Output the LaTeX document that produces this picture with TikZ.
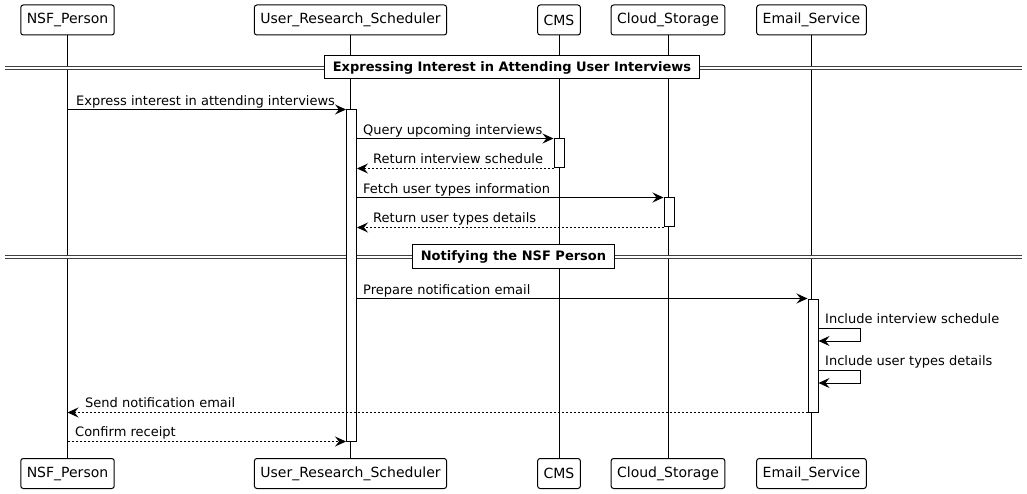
\documentclass[tikz,border=0pt]{standalone}
\usepackage{fontspec}
\setmainfont{DejaVu Sans}
\usetikzlibrary{arrows.meta}

\begin{document}
\begin{tikzpicture}[x=1pt, y=-1pt,
    participant/.style={draw, line width=1pt, rounded corners=2.5pt, fill=white,
        minimum height=30pt, inner xsep=6pt, font=\fontsize{14}{16}\selectfont},
    lifeline/.style={line width=1pt},
    activation/.style={draw, line width=1pt, fill=white, minimum width=10pt, inner sep=0pt},
    msg/.style={line width=1pt, -{Stealth[length=11pt, width=10pt, inset=4pt]}},
    reply/.style={msg, dash pattern=on 2pt off 2pt},
    msgtext/.style={anchor=base west, inner sep=0pt, font=\fontsize{13}{15}\selectfont},
    divider/.style={draw, line width=1pt, fill=white, minimum height=23pt, inner xsep=8pt,
        font=\bfseries\fontsize{13}{15}\selectfont},
    sepline/.style={draw=black!75, line width=0.8pt, double, double distance=2.6pt}]
    \useasboundingbox[fill=white] (0,0) rectangle (1027,494);

    % Participants (top and bottom)
    \node[participant] (nsfTop)   at (67.5,20)  {NSF\_Person};
    \node[participant] (ursTop)   at (350.5,20) {User\_Research\_Scheduler};
    \node[participant] (cmsTop)   at (559,20)   {CMS};
    \node[participant] (cloudTop) at (668,20)   {Cloud\_Storage};
    \node[participant] (mailTop)  at (811.5,20) {Email\_Service};
    \node[participant] (nsfBot)   at (67.5,473.5)  {NSF\_Person};
    \node[participant] (ursBot)   at (350.5,473.5) {User\_Research\_Scheduler};
    \node[participant] (cmsBot)   at (559,473.5)   {CMS};
    \node[participant] (cloudBot) at (668,473.5)   {Cloud\_Storage};
    \node[participant] (mailBot)  at (811.5,473.5) {Email\_Service};

    % Lifelines
    \draw[lifeline] (nsfTop) -- (nsfBot);
    \draw[lifeline] (ursTop) -- (ursBot);
    \draw[lifeline] (cmsTop) -- (cmsBot);
    \draw[lifeline] (cloudTop) -- (cloudBot);
    \draw[lifeline] (mailTop) -- (mailBot);

    % Dividers
    \draw[sepline] (5,68) -- (1022,68);
    \node[divider] (secInterest) at (512,67.5) {Expressing Interest in Attending User Interviews};
    \draw[sepline] (5,257) -- (1022,257);
    \node[divider] (secNotify) at (513.5,256.5) {Notifying the NSF Person};

    % Activation bars
    \node[activation, minimum height=331pt] (ursAct)   at (351.5,275.5) {};
    \node[activation, minimum height=29pt]  (cmsAct)   at (559,153.5)   {};
    \node[activation, minimum height=29pt]  (cloudAct) at (669,212.5)   {};
    \node[activation, minimum height=113pt] (mailAct)  at (813,355.5)   {};

    % Messages
    \draw[msg] (nsfTop |- ursAct.north) -- (ursAct.north west);
    \node[msgtext] (txtExpress) at (76,105.5) {Express interest in attending interviews};

    \draw[msg] (ursAct.east |- cmsAct.north) -- (cmsAct.north west);
    \node[msgtext] (txtQuery) at (363,134.5) {Query upcoming interviews};
    \draw[reply] (cmsAct.south west) -- (ursAct.east |- cmsAct.south);
    \node[msgtext] (txtSchedule) at (373,163.5) {Return interview schedule};

    \draw[msg] (ursAct.east |- cloudAct.north) -- (cloudAct.north west);
    \node[msgtext] (txtFetch) at (363,193.5) {Fetch user types information};
    \draw[reply] (cloudAct.south west) -- (ursAct.east |- cloudAct.south);
    \node[msgtext] (txtTypes) at (373,222.5) {Return user types details};

    \draw[msg] (ursAct.east |- mailAct.north) -- (mailAct.north west);
    \node[msgtext] (txtPrepare) at (363,294.5) {Prepare notification email};

    \draw[msg] (mailAct.east |- 0,328) -- ++(42,0) -- ++(0,13) -- (mailAct.east |- 0,341);
    \node[msgtext] (txtInclSched) at (825,323.5) {Include interview schedule};
    \draw[msg] (mailAct.east |- 0,370) -- ++(42,0) -- ++(0,13) -- (mailAct.east |- 0,383);
    \node[msgtext] (txtInclTypes) at (825,365.5) {Include user types details};

    \draw[reply] (mailAct.south west) -- (nsfTop |- mailAct.south);
    \node[msgtext] (txtSend) at (85,407.5) {Send notification email};
    \draw[reply] (nsfTop |- ursAct.south) -- (ursAct.south west);
    \node[msgtext] (txtConfirm) at (75,436.5) {Confirm receipt};
\end{tikzpicture}
\end{document}
